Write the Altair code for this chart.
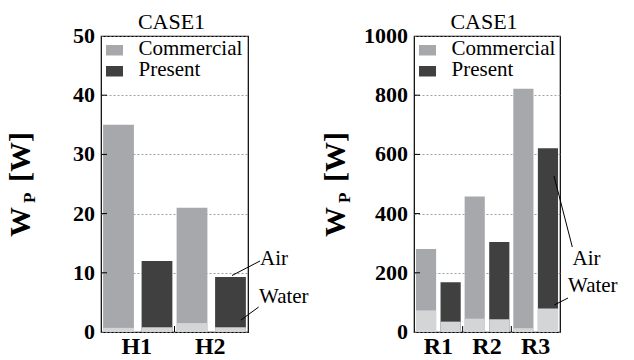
import altair as alt
import pandas as pd

SERIF = "Liberation Serif"

# Left panel: heating cases
h_groups = ["H1", "H1", "H2", "H2"]
h_types = ["Commercial", "Present", "Commercial", "Present"]
h_total = [35.0, 12.0, 21.0, 9.3]
h_water = [0.7, 0.8, 1.5, 0.8]
h_ticks = [0, 10, 20, 30, 40, 50]

# Right panel: cooling cases
r_groups = ["R1", "R1", "R2", "R2", "R3", "R3"]
r_types = ["Commercial", "Present", "Commercial", "Present", "Commercial", "Present"]
r_total = [280, 168, 458, 304, 822, 621]
r_water = [73, 35, 45, 43, 13, 79]
r_ticks = [0, 200, 400, 600, 800, 1000]

TYPES = ["Commercial", "Present"]
TYPE_COLORS = ["#a7a8ab", "#404040"]
WATER_COLOR = "#d4d5d7"

PANEL_H = 296


def text_layer(label, x, y, size, weight="normal", angle=0, align="left"):
    return alt.Chart(pd.DataFrame({"k": [0]})).mark_text(
        text=label, angle=angle, align=align, baseline="alphabetic", font=SERIF,
        fontSize=size, fontWeight=weight, color="black").encode(
        x=alt.value(x), y=alt.value(y))


def panel(groups, types, total, water, ticks, width, inner_pad, outer_pad,
          label_dx, title_x, notes):
    df = pd.DataFrame({"group": groups, "type": types, "total": total, "water": water})
    order = list(dict.fromkeys(groups))

    x_scale = alt.Scale(domain=order, paddingInner=0, paddingOuter=0)
    xoff = alt.XOffset("type:N", scale=alt.Scale(domain=TYPES, paddingInner=inner_pad,
                                                 paddingOuter=outer_pad))
    y_scale = alt.Scale(domain=[ticks[0], ticks[-1]], nice=False)
    # the value axis only contributes its dotted grid
    y_axis = alt.Axis(values=ticks, labels=False, ticks=False, domain=False, title=None,
                      grid=True, gridDash=[2, 2], gridColor="#888", gridWidth=0.8)

    x = alt.X("group:N", title=None, scale=x_scale, axis=None)

    bars = alt.Chart(df).mark_bar().encode(
        x=x, xOffset=xoff,
        y=alt.Y("total:Q", title=None, scale=y_scale, axis=y_axis),
        color=alt.Color("type:N", scale=alt.Scale(domain=TYPES, range=TYPE_COLORS),
                        legend=None),
    )
    water_bars = alt.Chart(df).mark_bar(color=WATER_COLOR).encode(
        x=x, xOffset=xoff,
        y=alt.Y("water:Q", title=None, scale=y_scale, axis=y_axis),
    )

    tick_df = pd.DataFrame({"v": ticks})
    # short inward ticks on the value axis
    ytick = alt.Chart(pd.DataFrame({"v": ticks[1:-1]})).mark_rule(
        color="black", strokeWidth=1).encode(
        y=alt.Y("v:Q", title=None, scale=y_scale, axis=y_axis),
        x=alt.value(0), x2=alt.value(6))
    # value-axis tick labels
    ylabels = alt.Chart(tick_df).mark_text(
        align="right", baseline="alphabetic", dy=7, font=SERIF, fontSize=22,
        fontWeight="bold", color="black").encode(
        y=alt.Y("v:Q", title=None, scale=y_scale, axis=y_axis),
        x=alt.value(-6), text=alt.Text("v:Q", format="d"))

    # inward ticks at the group boundaries
    xtick = alt.Chart(pd.DataFrame({"group": order[1:]})).mark_rule(
        color="black", strokeWidth=1).encode(
        x=alt.X("group:N", title=None, scale=x_scale, axis=None, bandPosition=0),
        y=alt.value(PANEL_H), y2=alt.value(PANEL_H - 6))
    # group labels under the bars
    xlabels = alt.Chart(pd.DataFrame({"group": order})).mark_text(
        align="center", baseline="alphabetic", dx=label_dx, font=SERIF, fontSize=24,
        fontWeight="bold", color="black").encode(
        x=x, y=alt.value(PANEL_H + 22), text="group:N")

    layers = [bars, water_bars, ytick, ylabels, xtick, xlabels]

    # panel title
    layers.append(text_layer("CASE1", width / 2 - 3, -7.5, 22, align="center"))

    # legend boxes and labels
    for i, (name, color) in enumerate(zip(TYPES, TYPE_COLORS)):
        top = 9 + 21 * i
        layers.append(alt.Chart(pd.DataFrame({"k": [0]})).mark_rect(color=color).encode(
            x=alt.value(5), x2=alt.value(22), y=alt.value(top), y2=alt.value(top + 10.5)))
        layers.append(text_layer(name, 37.5, top + 10.3, 21))

    # rotated axis title W_P [W]
    layers.append(text_layer("W", title_x, 201, 30, "bold", 270))
    layers.append(text_layer("P", title_x + 5, 167, 17, "bold", 270))
    layers.append(text_layer("[W]", title_x, 146, 30, "bold", 270))

    # leader-line labels
    for (x1, y1, x2, y2, tx, ty, label) in notes:
        layers.append(alt.Chart(pd.DataFrame({"k": [0]})).mark_rule(
            color="black", strokeWidth=1).encode(
            x=alt.value(x1), y=alt.value(y1), x2=alt.value(x2), y2=alt.value(y2)))
        layers.append(text_layer(label, tx, ty, 21))

    return alt.layer(*layers).properties(width=width, height=PANEL_H)


left = panel(h_groups, h_types, h_total, h_water, h_ticks, 147, 0.2, 0.055, -1, -71.3,
             [(131, 239.5, 159, 225, 159, 228.5, "Air"),
              (140, 284, 157.7, 271, 158, 266.5, "Water")])
right = panel(r_groups, r_types, r_total, r_water, r_ticks, 146, 0.18, 0.08, 0, -69.5,
              [(140, 140, 158.3, 211, 158.5, 229, "Air"),
               (140.3, 269, 154, 262, 154, 256, "Water")])

chart = alt.hconcat(left, right, spacing=166, bounds="flush").resolve_scale(
    color="independent", xOffset="independent").properties(
    padding={"left": 5, "top": 9, "right": 0, "bottom": 0}
).configure(background="white").configure_view(stroke="black", strokeWidth=1.2)

chart.save("out.html", embed_options={"renderer": "svg", "actions": False})
